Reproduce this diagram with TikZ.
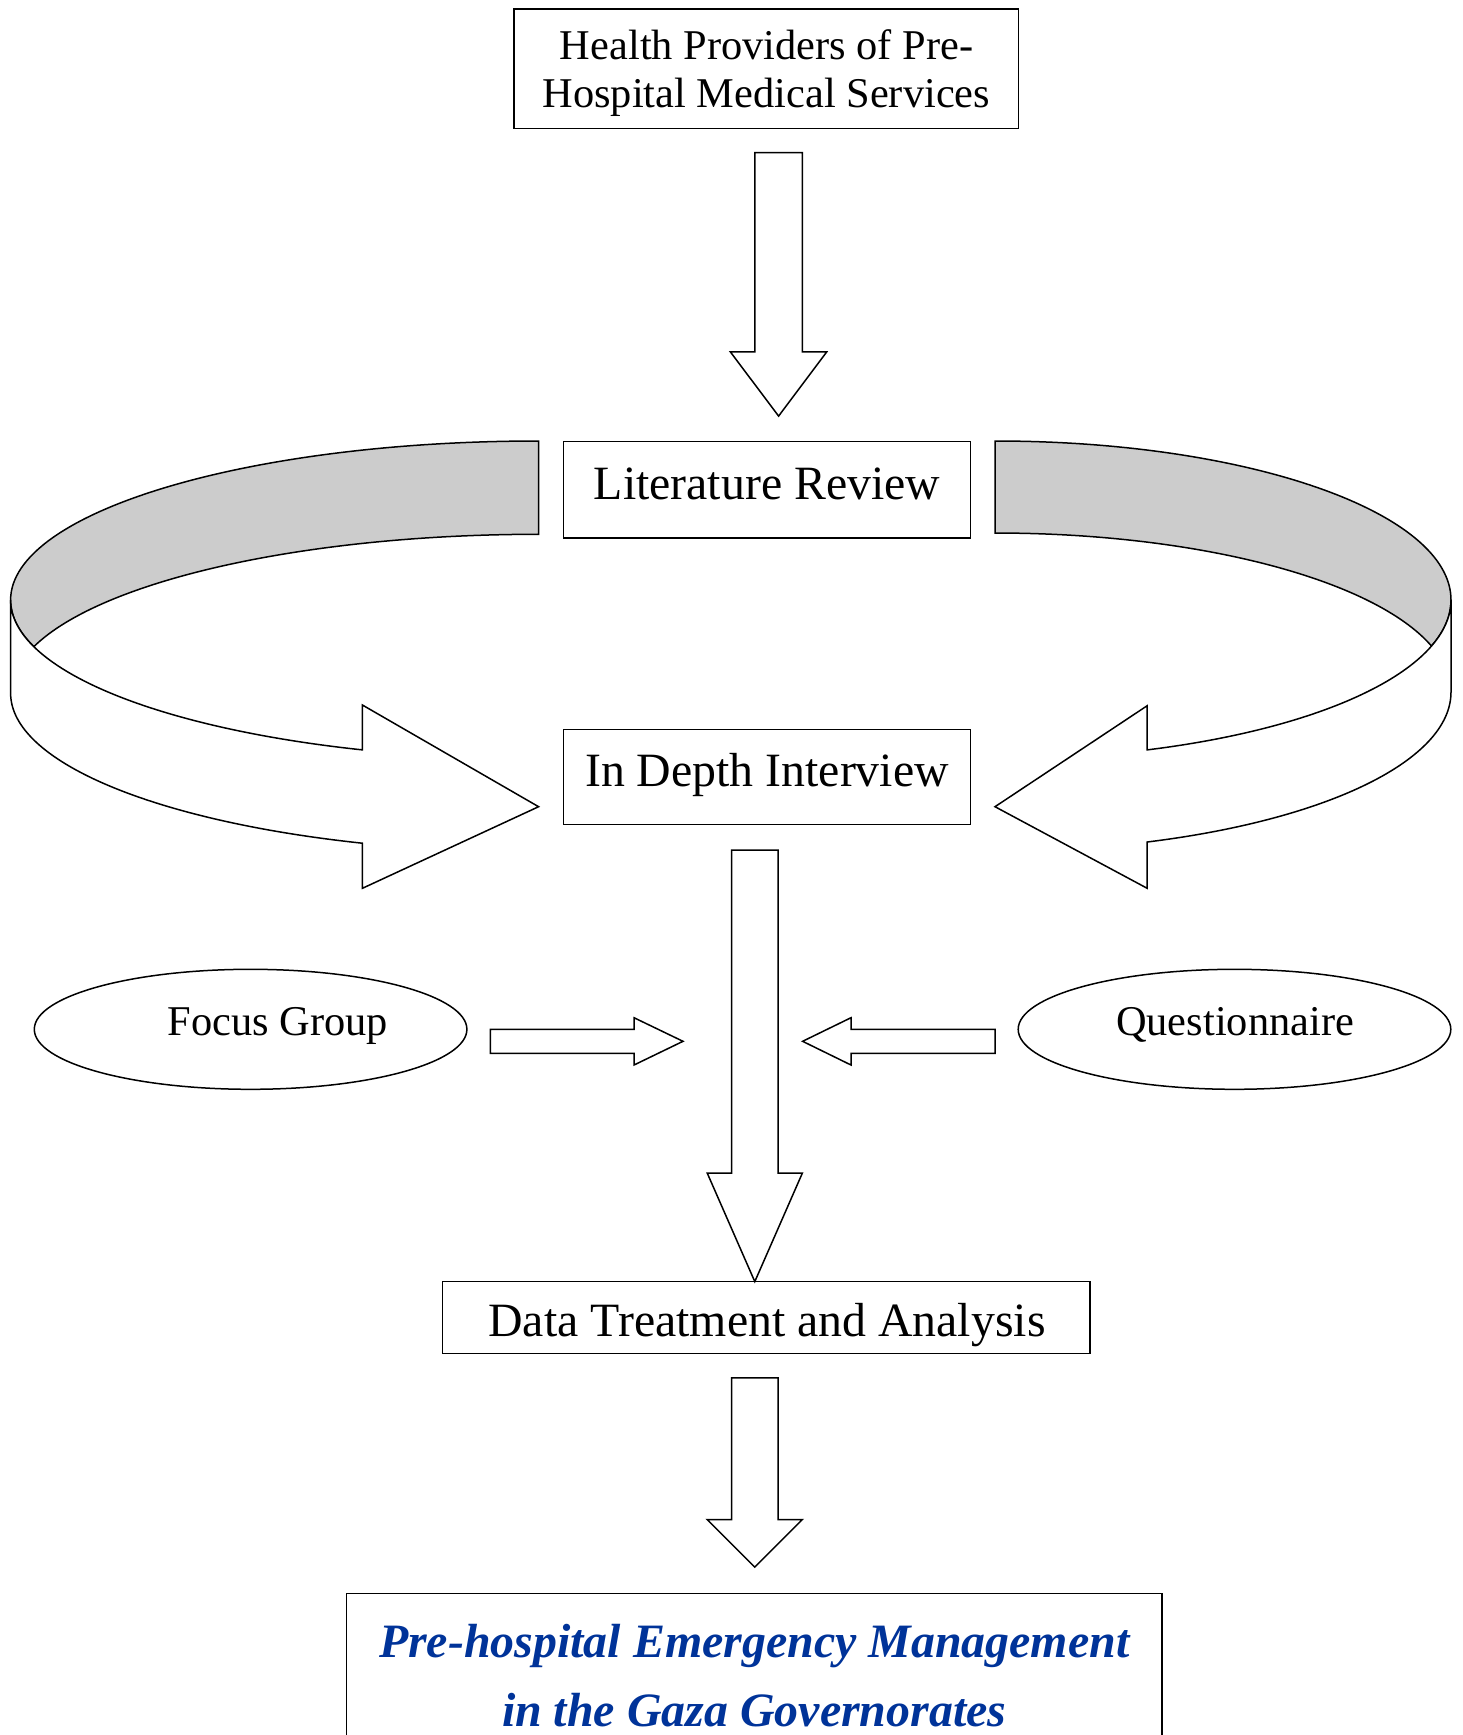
\documentclass[tikz,border=0pt]{standalone}
\usepackage{fontspec}
\setmainfont{Liberation Serif}
\usetikzlibrary{shapes.geometric}
\definecolor{titleblue}{RGB}{0,51,153}
\definecolor{bandgray}{RGB}{204,204,204}
\begin{document}
\begin{tikzpicture}[x=1pt,y=-1pt, line width=1.5pt, line join=miter,
  box/.style={draw, rectangle, inner sep=0pt},
  oval/.style={draw, ellipse, inner sep=0pt, minimum width=432.6pt, minimum height=120pt},
  blockarrow/.style={draw, fill=white},
  band/.style={draw, fill=bandgray},
  bandfront/.style={draw, fill=white},
  txtA/.style={font=\fontsize{42.4pt}{48pt}\selectfont, inner sep=0pt, anchor=base},
  txtB/.style={font=\fontsize{47.8pt}{54pt}\selectfont, inner sep=0pt, anchor=base},
  txtC/.style={font=\fontsize{47.9pt}{70pt}\selectfont\bfseries\itshape, text=titleblue, inner sep=0pt, anchor=base},
]
\path[use as bounding box, clip] (0,0) rectangle (1462,1735);

% boxes and ovals
\node[box, minimum width=504.6pt, minimum height=119.5pt] (hp) at (766.4,68.7) {};
\node[txtA] (hp1) at (766.6,59.3) {Health Providers of Pre-};
\node[txtA] (hp2) at (766.4,107.3) {Hospital Medical Services};

\node[box, minimum width=407.3pt, minimum height=96.3pt] (lit) at (767,489.8) {};
\node[txtB] (litt) at (767,499) {Literature Review};

\node[box, minimum width=407.3pt, minimum height=95.2pt] (idi) at (767,776.9) {};
\node[txtB] (idit) at (767,786) {In Depth Interview};

\node[oval] (fg) at (250.6,1029.3) {};
\node[txtA] (fgt) at (278,1035) {Focus Group};
\node[oval] (qn) at (1234.5,1029.3) {};
\node[txtA] (qnt) at (1235,1035) {Questionnaire};

\node[box, minimum width=647.4pt, minimum height=71.9pt] (dta) at (766.4,1317.5) {};
\node[txtB] (dtat) at (767,1336) {Data Treatment and Analysis};

\node[box, minimum width=815.6pt, minimum height=220pt] (res) at (754.2,1703.6) {};
\node[txtC] (res1) at (754.2,1657) {Pre-hospital Emergency Management};
\node[txtC] (res2) at (754.2,1726.7) {in the Gaza Governorates};

% straight block arrows
\draw[blockarrow] (754.8,152.7) -- (802.4,152.7) -- (802.4,351.9) -- (826.7,351.9)
  -- (778.6,416.1) -- (730.4,351.9) -- (754.8,351.9) -- cycle;
\draw[blockarrow] (731.5,850) -- (778,850) -- (778,1173) -- (802.4,1173)
  -- (754.8,1281.6) -- (707.2,1173) -- (731.5,1173) -- cycle;
\draw[blockarrow] (731.5,1377.8) -- (778,1377.8) -- (778,1519.5) -- (802.4,1519.5)
  -- (754.8,1567.1) -- (707.2,1519.5) -- (731.5,1519.5) -- cycle;
\draw[blockarrow] (490.3,1029.3) -- (634,1029.3) -- (634,1017.7) -- (683,1041.3)
  -- (634,1065) -- (634,1053.3) -- (490.3,1053.3) -- cycle;
\draw[blockarrow] (995,1029.3) -- (851,1029.3) -- (851,1017.7) -- (802.6,1041.3)
  -- (851,1065) -- (851,1053.3) -- (995,1053.3) -- cycle;

% left curved band arrow
\draw[band] (538.6,441)
  arc[start angle=90, end angle=180, x radius=528pt, y radius=159pt]
  arc[start angle=180, end angle=197.06, x radius=528pt, y radius=159pt]
  arc[start angle=162.94, end angle=90, x radius=528pt, y radius=159pt]
  -- cycle;
\draw[bandfront] (10.6,600)
  arc[start angle=180, end angle=250.5, x radius=528pt, y radius=159pt]
  -- (362.4,705) -- (538.6,806.7) -- (362.4,888.3) -- (362.4,843.2)
  arc[start angle=250.5, end angle=180, x radius=528pt, y radius=159pt]
  -- cycle;

% right curved band arrow
\draw[band] (995,441)
  arc[start angle=90, end angle=0, x radius=456pt, y radius=159pt]
  arc[start angle=0, end angle=-16.82, x radius=456pt, y radius=159pt]
  arc[start angle=16.82, end angle=90, x radius=456pt, y radius=159pt]
  -- cycle;
\draw[bandfront] (1451,600)
  arc[start angle=0, end angle=-70.5, x radius=456pt, y radius=159pt]
  -- (1147.2,705.7) -- (995,806.7) -- (1147.2,888.3) -- (1147.2,842)
  arc[start angle=-70.5, end angle=0, x radius=456pt, y radius=159pt]
  -- cycle;
\end{tikzpicture}
\end{document}
